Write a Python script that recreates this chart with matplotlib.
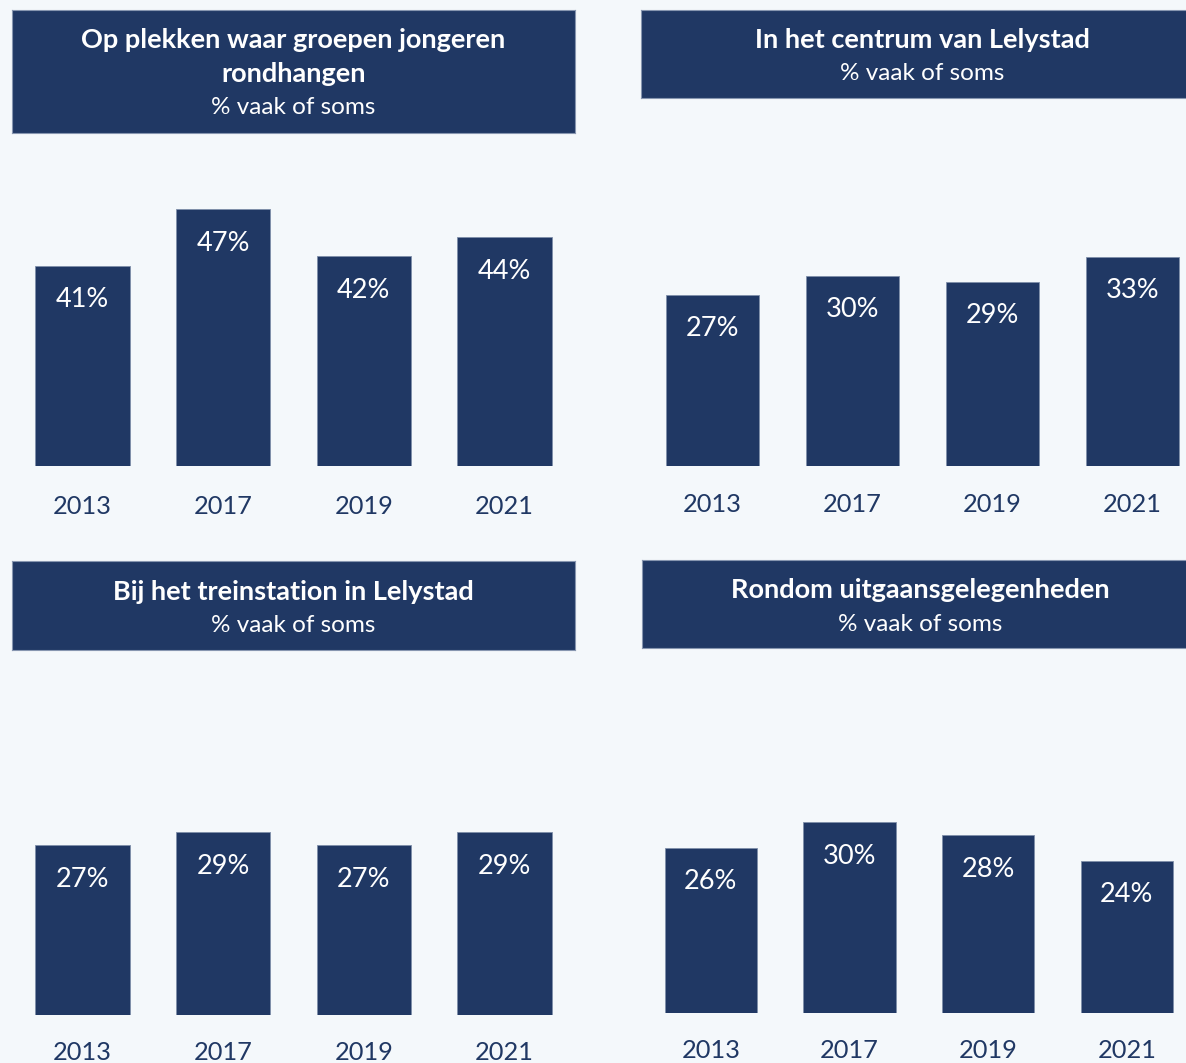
import matplotlib
matplotlib.use("Agg")
import matplotlib.pyplot as plt

plt.rcParams['font.family'] = ['Lato', 'DejaVu Sans']

years = ["2013", "2017", "2019", "2021"]

groepen = [41, 47, 42, 44]
centrum = [27, 30, 29, 33]
station = [27, 29, 27, 29]
uitgaan = [26, 30, 28, 24]

titles = [
    "Op plekken waar groepen jongeren\nrondhangen",
    "In het centrum van Lelystad",
    "Bij het treinstation in Lelystad",
    "Rondom uitgaansgelegenheden",
]
subtitle = "% vaak of soms"

NAVY = "#203864"
BG = "#F4F8FB"
W, H = 1186, 1063
VAL_FS = 19.5
YEAR_FS = 18.3


def px_axes(fig, x0, y0, x1, y1):
    # pixel box (top-left origin) -> figure fraction axes
    return fig.add_axes([x0 / W, 1 - y1 / H, (x1 - x0) / W, (y1 - y0) / H])


def title_box(fig, box, title, line_ys, sub_y):
    ax = px_axes(fig, *box)
    ax.set_facecolor(NAVY)
    ax.set_xticks([])
    ax.set_yticks([])
    for s in ax.spines.values():
        s.set_color("#8796B0")
        s.set_linewidth(0.8)
    x0, y0, x1, y1 = box
    cx = (x0 + x1) / 2 / W
    for line, ly in zip(title.split("\n"), line_ys):
        fig.text(cx, 1 - (ly + 1.5) / H, line, color="white", fontsize=19.5,
                 fontweight="bold", ha="center", va="center")
    fig.text(cx, 1 - (sub_y + 1.5) / H, subtitle, color="white", fontsize=17.5,
             ha="center", va="center")


def label_bars(ax, values, year_off):
    for i, v in enumerate(values):
        ax.annotate(f"{v}%", (i, v), xytext=(0, -34 * 0.72),
                    textcoords="offset points", ha="center", va="center",
                    color="white", fontsize=VAL_FS)
        ax.annotate(years[i], (i, 0), xycoords=("data", "axes fraction"),
                    xytext=(0, -(year_off + 1) * 0.72), textcoords="offset points",
                    ha="center", va="center", color=NAVY, fontsize=YEAR_FS)


def bar_panel(fig, box, values, ylim, width=0.67, year_off=38):
    ax = px_axes(fig, *box)
    ax.set_facecolor("none")
    ax.bar(range(len(years)), values, width=width, color=NAVY,
           edgecolor="#7F8FAA", linewidth=0.6)
    ax.set_xlim(-0.5, len(years) - 0.5)
    ax.set_ylim(*ylim)
    ax.axis("off")
    label_bars(ax, values, year_off)
    return ax


fig = plt.figure(figsize=(W / 100, H / 100), dpi=100)
fig.patch.set_facecolor(BG)

# top-left: axis does not start at zero in the source
base = 19.7
tl = px_axes(fig, 12, 150, 575, 466)
tl.set_facecolor("none")
tl.bar(range(4), [v - base for v in groepen], bottom=base, width=0.67,
       color=NAVY, edgecolor="#7F8FAA", linewidth=0.6)
tl.set_xlim(-0.5, 3.5)
tl.set_ylim(base, 53.3)
tl.axis("off")
label_bars(tl, groepen, 39)

bar_panel(fig, (642.5, 150, 1202.5, 466), centrum, (0, 49.8))
bar_panel(fig, (12, 665, 575, 1015), station, (0, 55.6), year_off=36)
bar_panel(fig, (641.6, 665, 1196, 1013), uitgaan, (0, 54.8), width=0.665,
          year_off=37)

title_box(fig, (12, 10, 575, 133), titles[0], [39, 73], 106)
title_box(fig, (641, 10, 1204, 98), titles[1], [39], 72)
title_box(fig, (12, 561, 575, 650), titles[2], [591], 624)
title_box(fig, (642, 560, 1198, 648), titles[3], [589], 623)

fig.savefig("out.png", dpi=100, facecolor=BG)
